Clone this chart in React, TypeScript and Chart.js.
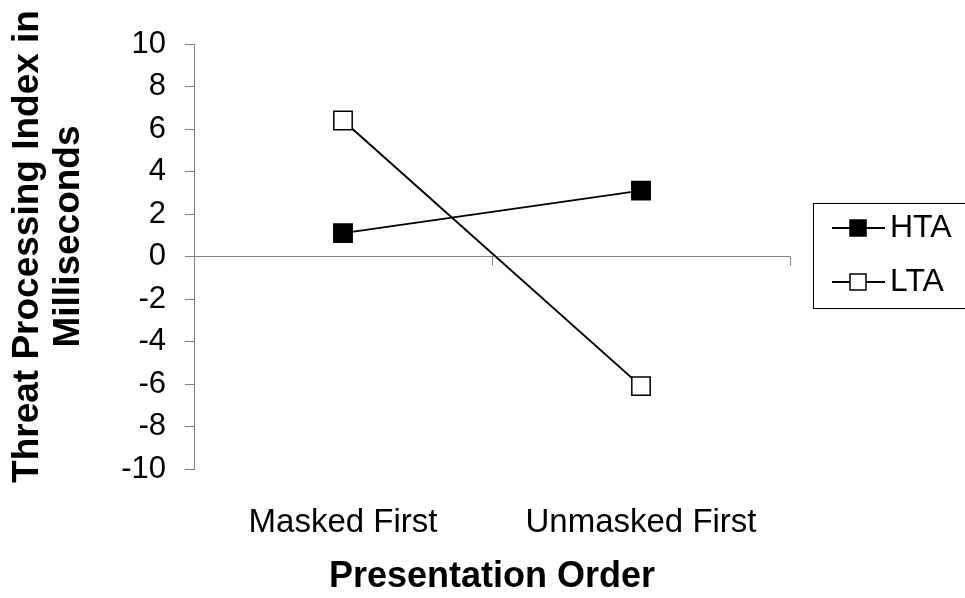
import React, { useEffect, useRef } from "react";
import { Chart, registerables } from "chart.js";

Chart.register(...registerables);

const categories = ["Masked First", "Unmasked First"];
const htaValues = [1.1, 3.1];
const ltaValues = [6.4, -6.1];
const seriesNames = ["HTA", "LTA"];
const yTitleLines = ["Threat Processing Index in", "Milliseconds"];
const xTitle = "Presentation Order";

const FONT = "'Liberation Sans', Arial, sans-serif";

const zeroTicksPlugin = {
  id: "zeroTicks",
  afterDatasetsDraw(chart: any) {
    const { ctx } = chart;
    const x = chart.scales.x;
    const y = chart.scales.y;
    const y0 = y.getPixelForValue(0);
    const n = categories.length;
    ctx.save();
    ctx.strokeStyle = "#808080";
    ctx.lineWidth = 1;
    for (let i = 0; i <= n; i++) {
      const px = Math.round(x.left + (i * (x.right - x.left)) / n) + 0.5;
      ctx.beginPath();
      ctx.moveTo(px, y0);
      ctx.lineTo(px, y0 + 9);
      ctx.stroke();
    }
    ctx.restore();
  },
};

const yTitlePlugin = {
  id: "yTitle",
  afterDraw(chart: any) {
    const { ctx, chartArea } = chart;
    const mid = (chartArea.top + chartArea.bottom) / 2;
    const xs = [28, 69];
    const shifts = [-10, -20];
    ctx.save();
    ctx.fillStyle = "#000";
    ctx.font = `bold 37px ${FONT}`;
    ctx.textAlign = "center";
    ctx.textBaseline = "middle";
    yTitleLines.forEach((line, i) => {
      ctx.save();
      ctx.translate(xs[i], mid + shifts[i]);
      ctx.rotate(-Math.PI / 2);
      ctx.fillText(line, 0, 0);
      ctx.restore();
    });
    ctx.restore();
  },
};

const legendPlugin = {
  id: "customLegend",
  afterDraw(chart: any) {
    const { ctx } = chart;
    const left = chart.chartArea.right + 23;
    const top = 203;
    const bottom = 308;
    ctx.save();
    ctx.strokeStyle = "#000000";
    ctx.lineWidth = 1;
    ctx.strokeRect(left + 0.5, top + 0.5, chart.width, bottom - top);
    const rows = [228, 282];
    chart.data.datasets.forEach((ds: any, i: number) => {
      const cy = rows[i];
      ctx.strokeStyle = "#000";
      ctx.lineWidth = 2;
      ctx.beginPath();
      ctx.moveTo(left + 19, cy);
      ctx.lineTo(left + 72, cy);
      ctx.stroke();
      const s = 16;
      const cx = left + 45;
      ctx.fillStyle = ds.pointBackgroundColor;
      ctx.fillRect(cx - s / 2, cy - s / 2, s, s);
      ctx.lineWidth = 1.5;
      ctx.strokeRect(cx - s / 2, cy - s / 2, s, s);
      ctx.fillStyle = "#000";
      ctx.font = `32px ${FONT}`;
      ctx.textBaseline = "middle";
      ctx.textAlign = "left";
      ctx.fillText(ds.label, left + 77, cy);
    });
    ctx.restore();
  },
};

export default function App() {
  const ref = useRef<HTMLCanvasElement | null>(null);
  useEffect(() => {
    if (!ref.current) return;
    const chart = new Chart(ref.current, {
      type: "line",
      data: {
        labels: categories,
        datasets: [
          {
            label: seriesNames[0],
            data: htaValues,
            borderColor: "#000",
            borderWidth: 2,
            pointStyle: "rect",
            pointRadius: 13,
            pointHoverRadius: 13,
            pointBackgroundColor: "#000",
            pointBorderColor: "#000",
            pointBorderWidth: 1.5,
          },
          {
            label: seriesNames[1],
            data: ltaValues,
            borderColor: "#000",
            borderWidth: 2,
            pointStyle: "rect",
            pointRadius: 13,
            pointHoverRadius: 13,
            pointBackgroundColor: "#fff",
            pointBorderColor: "#000",
            pointBorderWidth: 1.5,
          },
        ],
      },
      options: {
        animation: false,
        responsive: false,
        maintainAspectRatio: false,
        layout: { padding: { top: 44, right: 175, bottom: 0, left: 0 } },
        plugins: { legend: { display: false }, tooltip: { enabled: false } },
        scales: {
          x: {
            type: "category",
            offset: true,
            grid: { display: false },
            border: { display: false },
            ticks: {
              color: "#000",
              padding: 26,
              font: { family: FONT, size: 33 },
              maxRotation: 0,
            },
            title: {
              display: true,
              text: xTitle,
              color: "#000",
              font: { family: FONT, size: 36, weight: "bold", lineHeight: 1.14 },
              padding: { top: 0, bottom: 0 },
            },
            afterFit(scale: any) {
              scale.height = 129;
            },
          },
          y: {
            min: -10,
            max: 10,
            ticks: {
              stepSize: 2,
              color: "#000",
              padding: 19,
              font: { family: FONT, size: 31 },
            },
            grid: {
              drawOnChartArea: true,
              drawTicks: true,
              tickLength: 9,
              tickColor: "#808080",
              color: (c: any) => (c.tick && c.tick.value === 0 ? "#808080" : "rgba(0,0,0,0)"),
            },
            border: { display: true, color: "#808080", width: 1 },
            title: { display: false },
            afterFit(scale: any) {
              scale.width = 194;
            },
          },
        },
      },
      plugins: [zeroTicksPlugin, yTitlePlugin, legendPlugin],
    });
    return () => chart.destroy();
  }, []);
  return (
    <div style={{ position: "fixed", left: 0, top: 0, width: 965, height: 598, background: "#fff" }}>
      <canvas ref={ref} width={965} height={598} style={{ width: 965, height: 598 }} />
    </div>
  );
}
